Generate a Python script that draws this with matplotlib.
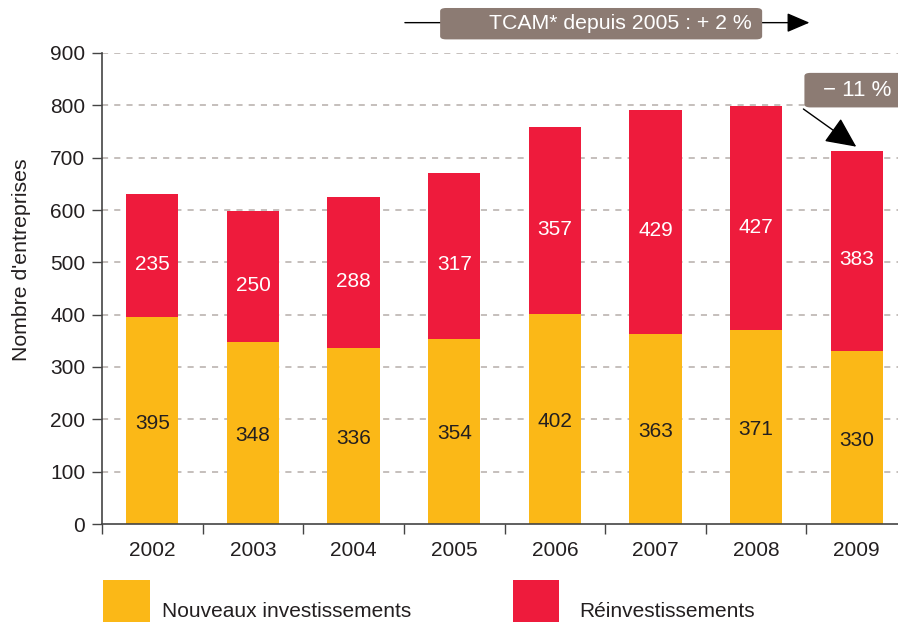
import matplotlib
matplotlib.use("Agg")
import matplotlib.pyplot as plt
from matplotlib.patches import Rectangle, FancyBboxPatch

plt.rcParams['font.family'] = ['Liberation Sans', 'DejaVu Sans']

years = ["2002", "2003", "2004", "2005", "2006", "2007", "2008", "2009"]
nouveaux = [395, 348, 336, 354, 402, 363, 371, 330]
reinvest = [235, 250, 288, 317, 357, 429, 427, 383]
yticks = [0, 100, 200, 300, 400, 500, 600, 700, 800, 900]
legend_labels = ["Nouveaux investissements", "Réinvestissements"]
tcam_text = "TCAM* depuis 2005 : + 2 %"
drop_text = "\u2212 11 %"

YELLOW = "#FBB817"
RED = "#EE1B3C"
BOX = "#8C7B73"
TXT = "#231F20"

W, H = 898, 622
fig = plt.figure(figsize=(W / 100, H / 100), dpi=100)
ax = fig.add_axes([102 / W, (H - 524) / H, 796 / W, (524 - 53) / H])

x = list(range(len(years)))
bw = 0.52
ax.bar(x, nouveaux, width=bw, color=YELLOW, zorder=2)
ax.bar(x, reinvest, width=bw, bottom=nouveaux, color=RED, zorder=2)

for i in x:
    ax.text(i, nouveaux[i] / 2 - 5, str(nouveaux[i]), ha='center', va='center',
            fontsize=15, color=TXT, zorder=3)
    ax.text(i, nouveaux[i] + reinvest[i] / 2 - 17, str(reinvest[i]), ha='center',
            va='center', fontsize=15, color='white', zorder=3)

ax.set_xlim(-0.5, 7.41)
ax.set_ylim(0, 900)
ax.set_yticks(yticks)
ax.set_yticklabels([str(v) for v in yticks], fontsize=15, color=TXT)
ax.set_xticks(x)
ax.set_xticklabels(years, fontsize=15, color=TXT)
ax.set_xticks([i - 0.5 for i in x], minor=True)
ax.tick_params(axis='x', which='major', length=0, pad=12)
ax.tick_params(axis='x', which='minor', length=7, width=1, color='#444444', direction='out')
ax.tick_params(axis='y', length=7, width=1, color='#444444', direction='out', pad=5)

for v in yticks[1:]:
    ax.axhline(v, color='#B5ADA9', lw=1.1, ls=(0, (4, 4)), zorder=1)

for s in ['top', 'right']:
    ax.spines[s].set_visible(False)
for s in ['left', 'bottom']:
    ax.spines[s].set_color('#444444')
    ax.spines[s].set_linewidth(1.2)

ax.set_ylabel("Nombre d'entreprises", fontsize=15.3, color=TXT)
ax.yaxis.set_label_coords(-0.089, 0.562)

# TCAM arrow
ax.annotate('', xy=(6.53, 958), xytext=(2.51, 958), xycoords='data',
            arrowprops=dict(arrowstyle='-|>,head_length=1.4,head_width=0.6',
                            color='black', lw=1.0, shrinkA=0, shrinkB=0),
            annotation_clip=False, zorder=4)
ax.add_patch(FancyBboxPatch((2.86, 926), 6.06 - 2.86, 986 - 926,
                            boxstyle='round,pad=0,rounding_size=0.06',
                            mutation_aspect=60 / 0.3 / 2,
                            fc=BOX, ec='none', clip_on=False, zorder=5))
ax.text(5.96, 956, tcam_text, ha='right', va='center', fontsize=15.3, color='white',
        clip_on=False, zorder=6)

# -11% arrow
ax.annotate('', xy=(6.995, 721), xytext=(6.47, 793), xycoords='data',
            arrowprops=dict(arrowstyle='-|>,head_length=1.9,head_width=0.9',
                            color='black', lw=1.0, shrinkA=0, shrinkB=0),
            annotation_clip=False, zorder=4)
ax.add_patch(FancyBboxPatch((6.48, 796), 1.3, 862 - 796,
                            boxstyle='round,pad=0,rounding_size=0.06',
                            mutation_aspect=60 / 0.3 / 2,
                            fc=BOX, ec='none', clip_on=False, zorder=5))
ax.text(7.0, 828, drop_text, ha='center', va='center', fontsize=16, color='white',
        clip_on=False, zorder=6)

# legend
fig.patches.append(Rectangle((103 / W, 0), 47 / W, 42 / H, transform=fig.transFigure,
                             fc=YELLOW, ec='none'))
fig.patches.append(Rectangle((513 / W, 0), 46 / W, 42 / H, transform=fig.transFigure,
                             fc=RED, ec='none'))
fig.text(162 / W, (H - 617) / H, legend_labels[0], fontsize=15, color=TXT,
         ha='left', va='baseline')
fig.text(579 / W, (H - 617) / H, legend_labels[1], fontsize=15, color=TXT,
         ha='left', va='baseline')

fig.savefig("out.png", dpi=100)
